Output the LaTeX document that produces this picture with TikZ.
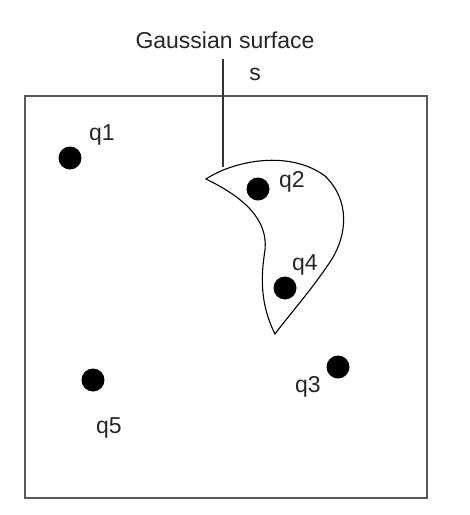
\documentclass[tikz,border=0pt]{standalone}
\usepackage{fontspec}
\setmainfont{Liberation Sans}
\tikzset{
  charge/.style={circle,fill=black,inner sep=0pt,minimum size=23pt},
  qlabel/.style={anchor=base,inner sep=0pt,text=black!85},
}
\begin{document}
\begin{tikzpicture}[x=1pt,y=-1pt,font=\fontsize{23}{27}\selectfont]
  \useasboundingbox (0,0) rectangle (470,515);
  % region holding the charges
  \draw[black!65,line width=1.6pt] (25,96) rectangle (427,498);
  % gaussian surface
  \draw[line width=1.1pt] (206,179) .. controls (235,160) and (290,150) .. (325,176)
    .. controls (350,200) and (348,235) .. (330,262)
    .. controls (310,292) and (285,320) .. (275,334)
    .. controls (258,300) and (262,270) .. (265,250)
    .. controls (268,220) and (245,198) .. (206,179) -- cycle;
  % charges
  \node[charge] (c1) at (70,158) {};
  \node[charge] (c2) at (258,189) {};
  \node[charge] (c3) at (338,367) {};
  \node[charge] (c4) at (285,288) {};
  \node[charge] (c5) at (93,380) {};
  \node[qlabel] (l1) at (102,140) {q1};
  \node[qlabel] (l2) at (292,187) {q2};
  \node[qlabel] (l3) at (308,392) {q3};
  \node[qlabel] (l4) at (305,270) {q4};
  \node[qlabel] (l5) at (109,433) {q5};
  % caption of the surface
  \node[qlabel] (title) at (225,48) {Gaussian surface};
  \node[qlabel] (sname) at (255,80) {s};
  \coordinate (ptop) at (223,59);
  \coordinate (pbot) at (223,167);
  \draw[line width=1.1pt,black!80] (ptop) -- (pbot);
\end{tikzpicture}
\end{document}
